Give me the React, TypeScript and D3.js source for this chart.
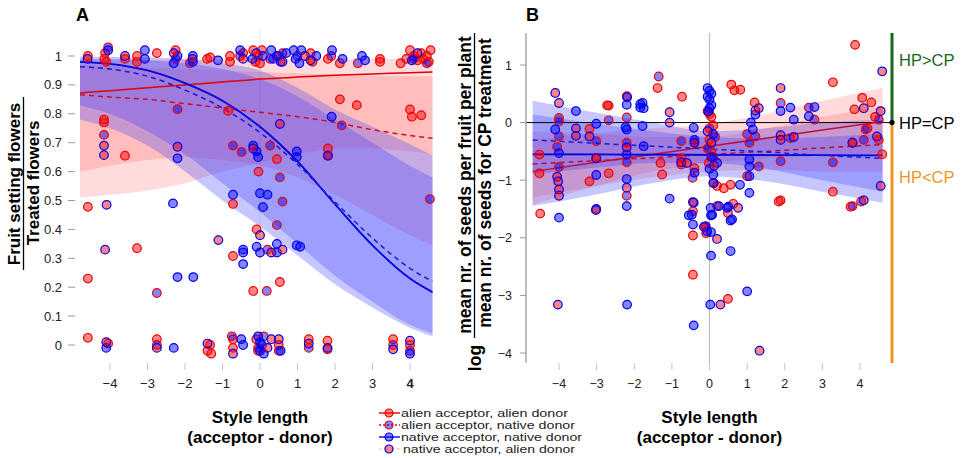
import { useEffect, useRef } from 'react';
import * as d3 from 'd3';

type Pt = [number, number];

const W = 965;
const H = 458;
const FONT = 'Liberation Sans, Arial, Helvetica, sans-serif';

// ---------- Panel A: fruit setting flowers / treated flowers ----------
const fitXA = [-4.8, -4, -3, -2, -1, 0, 1, 2, 3, 4, 4.6];

const fitA_aa_mid = [0.872, 0.88, 0.89, 0.9, 0.91, 0.92, 0.927, 0.933, 0.938, 0.942, 0.945];
const fitA_aa_lo = [0.51, 0.52, 0.535, 0.56, 0.6, 0.63, 0.66, 0.68, 0.68, 0.67, 0.66];
const fitA_aa_hi = [0.982, 0.984, 0.986, 0.988, 0.99, 0.99, 0.99, 0.99, 0.99, 0.99, 0.99];

const fitA_an_mid = [0.866, 0.858, 0.85, 0.835, 0.82, 0.805, 0.79, 0.77, 0.745, 0.725, 0.715];
const fitA_an_lo = [0.6, 0.62, 0.64, 0.65, 0.64, 0.62, 0.58, 0.52, 0.45, 0.38, 0.345];
const fitA_an_hi = [0.97, 0.965, 0.96, 0.955, 0.95, 0.945, 0.94, 0.935, 0.932, 0.93, 0.93];

const fitA_nn_mid = [0.98, 0.973, 0.95, 0.906, 0.845, 0.755, 0.635, 0.487, 0.345, 0.23, 0.183];
const fitA_nn_lo = [0.83, 0.8, 0.74, 0.66, 0.56, 0.46, 0.35, 0.24, 0.15, 0.07, 0.04];
const fitA_nn_hi = [0.998, 0.997, 0.995, 0.99, 0.975, 0.95, 0.89, 0.815, 0.755, 0.695, 0.657];

const fitA_na_mid = [0.963, 0.955, 0.93, 0.882, 0.82, 0.735, 0.625, 0.495, 0.37, 0.265, 0.22];
const fitA_na_lo = [0.78, 0.75, 0.69, 0.6, 0.5, 0.41, 0.31, 0.21, 0.13, 0.06, 0.03];
const fitA_na_hi = [0.99, 0.99, 0.985, 0.975, 0.955, 0.92, 0.86, 0.78, 0.7, 0.62, 0.58];

const ptsA_aa: Pt[] = [
  [-4.59, 1.0], [-4.15, 0.99], [-4.13, 1.01], [-4.1, 0.98], [-3.6, 0.99], [-3.28, 1.0], [-3.28, 0.98],
  [-2.75, 1.01], [-2.25, 1.02], [-1.41, 0.99], [-1.33, 0.995], [-0.8, 0.98], [-0.8, 1.0], [-0.45, 1.01],
  [-0.18, 1.02], [-0.12, 0.98], [-0.05, 1.0], [0.0, 0.975], [0.05, 1.02], [0.5, 1.0], [1.35, 1.01],
  [1.4, 0.98], [1.81, 0.99], [2.13, 0.975], [3.2, 0.99], [3.2, 0.98], [3.75, 0.975], [3.9, 0.99],
  [4.0, 1.02], [4.1, 1.0], [4.2, 0.985], [4.3, 1.01], [4.35, 0.99], [4.45, 1.0], [4.5, 0.98], [4.55, 1.02],
  [-4.16, 0.78], [-4.16, 0.77], [-3.6, 0.655], [-0.85, 0.81], [-0.04, 0.6], [0.45, 0.643], [2.13, 0.85],
  [2.58, 0.83], [4.0, 0.815], [4.05, 0.79], [4.3, 0.795], [-4.59, 0.478], [-0.72, 0.488], [-0.09, 0.4],
  [-3.28, 0.335], [-4.59, 0.23], [-0.72, 0.308], [0.53, 0.218], [-0.18, 0.187], [1.81, 0.68],
  [-4.59, 0.025], [-4.05, 0.005], [-2.75, 0.02], [-1.4, -0.02], [-1.33, 0.0], [-1.3, -0.03], [-0.72, 0.02],
  [-0.72, -0.01], [-0.1, 0.02], [-0.05, -0.02], [0.5, 0.0], [1.3, 0.02], [1.8, 0.015], [3.55, 0.02], [4.0, 0.0],
];
const ptsA_an: Pt[] = [
  [-4.05, 1.03], [-2.25, 0.99], [-1.87, 0.975], [-0.53, 1.0], [0.27, 0.99], [0.6, 1.01], [1.0, 1.0],
  [1.9, 1.0], [2.61, 0.975], [4.1, 0.99], [4.45, 0.975],
  [-4.16, 0.727], [-2.2, 0.816], [-0.72, 0.69], [-0.49, 0.668], [0.27, 0.69], [2.18, 0.76], [4.53, 0.505],
  [0.6, 0.496], [0.45, 0.415], [0.2, 0.33], [-2.75, 0.18], [0.18, 0.187], [0.53, 0.58], [1.81, 0.655],
  [-0.75, 0.03], [0.1, 0.03], [0.5, -0.02], [1.3, -0.01], [1.8, -0.015], [3.55, 0.0], [4.0, -0.02],
  [-2.75, 0.0], [-0.05, -0.01],
];
const ptsA_nn: Pt[] = [
  [-4.05, 1.02], [-3.07, 1.02], [-3.07, 0.99], [-2.3, 0.975], [-2.2, 1.0], [-1.79, 1.0], [-1.79, 0.98],
  [-1.12, 0.985], [-0.53, 1.02], [-0.2, 0.99], [0.08, 1.0], [0.3, 1.02], [0.35, 0.99], [0.45, 1.0],
  [0.55, 0.98], [0.7, 1.01], [0.9, 1.02], [0.95, 0.99], [1.05, 0.975], [1.1, 1.02], [1.5, 1.0],
  [1.92, 1.02], [2.2, 0.99], [2.72, 1.0], [2.8, 0.985], [4.05, 0.985],
  [-2.2, 0.646], [-0.18, 0.69], [-0.09, 0.67], [-0.05, 0.65], [0.98, 0.67], [0.98, 0.65], [1.91, 0.79],
  [-0.72, 0.52], [0.0, 0.525], [0.2, 0.52], [-2.32, 0.49], [0.08, 0.477], [-0.45, 0.33], [-0.45, 0.32],
  [-0.45, 0.28], [-0.09, 0.34], [0.0, 0.32], [0.45, 0.35], [0.45, 0.32], [0.98, 0.345], [1.07, 0.34],
  [-2.2, 0.235], [-1.78, 0.235],
  [-4.1, -0.01], [-2.3, -0.01], [-0.5, 0.02], [-0.45, 0.0], [-0.05, 0.03], [0.0, 0.01], [0.0, -0.02],
  [0.05, 0.0], [0.1, -0.03], [0.55, -0.02], [4.0, -0.03],
];
const ptsA_na: Pt[] = [
  [-4.6, 0.99], [-3.6, 1.0], [-2.3, 1.01], [-1.8, 0.99], [-0.45, 0.99], [-0.1, 1.01], [0.6, 0.98],
  [1.2, 1.0], [1.35, 0.985], [4.2, 1.01],
  [-4.16, 0.69], [-4.16, 0.657], [-2.2, 0.686], [0.53, 0.765], [-1.11, 0.363], [-4.13, 0.33],
  [-4.09, 0.485], [0.0, 0.38], [0.3, 0.32], [0.6, 0.33], [1.81, 0.655], [-0.18, 0.68],
  [-4.1, 0.01], [-2.75, -0.01], [-1.4, 0.005], [-0.72, -0.03], [0.2, -0.01], [0.3, 0.02], [0.5, 0.02],
  [1.3, 0.005], [1.8, -0.01], [3.55, -0.015], [4.0, 0.015],
];

const xTicksA = [-4, -3, -2, -1, 0, 1, 2, 3, 4];
const yTicksA = [0, 0.1, 0.2, 0.3, 0.4, 0.5, 0.6, 0.7, 0.8, 0.9, 1];

// ---------- Panel B: log ratio of seeds per fruit ----------
const fitXB = [-4.7, -3, -1.5, 0, 1.5, 3, 4.6];

const fitB_aa_mid = [-0.85, -0.69, -0.55, -0.41, -0.27, -0.13, 0.02];
const fitB_aa_lo = [-1.42, -1.1, -0.85, -0.7, -0.62, -0.57, -0.55];
const fitB_aa_hi = [-0.3, -0.18, -0.1, -0.02, 0.15, 0.38, 0.6];

const fitB_an_mid = [-0.72, -0.66, -0.61, -0.55, -0.5, -0.44, -0.38];
const fitB_an_lo = [-1.3, -1.1, -0.95, -0.85, -0.82, -0.85, -0.85];
const fitB_an_hi = [-0.15, -0.2, -0.25, -0.25, -0.1, 0.1, 0.28];

const fitB_nn_mid = [-0.55, -0.553, -0.556, -0.56, -0.563, -0.566, -0.57];
const fitB_nn_lo = [-1.45, -1.25, -1.05, -0.93, -1.02, -1.2, -1.39];
const fitB_nn_hi = [0.38, 0.17, 0.0, -0.15, -0.1, 0.0, 0.05];

const fitB_na_mid = [-0.3, -0.36, -0.41, -0.46, -0.51, -0.57, -0.62];
const fitB_na_lo = [-0.9, -0.78, -0.7, -0.7, -0.8, -1.0, -1.2];
const fitB_na_hi = [0.14, -0.02, -0.15, -0.25, -0.28, -0.25, -0.2];

const ptsB_aa: Pt[] = [
  [-4.52, -0.555], [-4.52, -0.88], [-4.5, -1.58], [-3.19, -0.11], [-3.19, -1.02], [-2.68, 0.295],
  [-2.68, -0.88], [-2.2, 0.46], [-2.72, 0.3], [-1.26, -0.9], [-1.38, 0.6], [-0.73, 0.45], [-0.75, -0.62],
  [-0.4, -0.79], [0.58, 0.66], [0.66, 0.56], [0.82, 0.57], [1.89, -1.35], [3.28, 0.7], [3.28, -1.2],
  [3.87, 1.35], [4.06, 0.43], [3.85, 0.23], [4.3, 0.35], [4.59, -0.55], [0.49, -1.57], [-0.44, -1.54],
  [-0.44, -1.96], [-0.44, -2.64], [-0.09, -1.92], [0.2, -1.45], [0.63, -1.41], [0.49, -3.06], [3.75, -1.46],
  [1.84, -1.37], [0.0, 0.15], [0.05, 0.1], [-0.05, 0.2], [0.1, -0.05], [0.0, -0.3], [0.05, -0.5],
  [-0.02, -0.7], [0.1, -1.05], [0.2, -1.1], [0.38, -1.14], [1.2, 0.35], [4.4, 0.1], [4.5, -0.3],
  [3.8, -0.35], [4.2, -0.1], [-0.1, -1.8], [-0.75, -0.73], [0.56, -1.08], [1.0, -0.93], [-3.01, -0.62],
  [-1.3, -0.7],
];
const ptsB_an: Pt[] = [
  [-4.0, 0.08], [-4.0, 0.02], [-4.0, -0.24], [-4.05, -0.42], [-4.0, -0.77], [-3.01, -0.32], [-2.68, 0.04],
  [-2.2, 0.09], [-2.2, -0.35], [-2.2, -0.69], [-1.35, 0.8], [-0.75, -0.32], [-0.4, -0.35], [-0.45, -0.96],
  [1.31, -0.76], [1.89, -0.67], [1.89, 0.34], [2.15, -0.27], [2.64, 0.26], [2.79, 0.05], [3.28, -0.69],
  [4.1, -0.3], [4.15, -0.12], [4.5, 0.05], [0.0, -0.1], [-0.05, -0.45], [0.1, -0.6], [0.15, -0.25],
  [1.22, -0.24], [1.06, -0.35], [4.03, -1.37], [3.8, -1.45], [1.0, -0.2], [-2.2, -1.27],
];
const ptsB_nn: Pt[] = [
  [-4.0, -1.65], [-3.55, 0.2], [-3.01, -0.02], [-3.01, -0.91], [-3.01, -1.5], [-2.23, -0.08], [-2.2, 0.31],
  [-2.2, -0.12], [-2.2, -0.55], [-2.2, -0.98], [-2.2, -1.45], [-1.78, 0.34], [-1.75, 0.25], [-1.78, -0.06],
  [-1.75, -0.41], [-1.06, -1.32], [-0.42, -0.09], [-0.4, -0.3], [-0.4, -0.87], [-0.42, -1.39], [-0.47, -1.6],
  [-0.55, -1.61], [-0.44, -1.77], [0.04, -1.9], [0.03, -1.48], [0.04, -1.61], [0.47, -1.48], [0.56, -1.7],
  [0.56, -2.23], [0.04, -2.31], [1.0, -2.93], [0.02, -3.16], [-2.19, -3.16], [-0.42, -3.52], [-0.05, 0.6],
  [0.0, 0.55], [0.05, 0.5], [-0.05, 0.45], [0.0, 0.4], [0.05, 0.3], [0.0, 0.25], [-0.03, 0.19], [0.1, -0.2],
  [0.05, -0.6], [0.0, -0.8], [0.1, -0.9], [0.2, -0.7], [1.22, 0.14], [1.1, 0.0], [1.15, -0.12], [1.06, -0.64],
  [1.06, -0.76], [1.06, -0.93], [1.06, -1.22], [1.89, 0.2], [2.15, 0.26], [2.24, 0.05], [2.64, 0.11],
  [2.79, 0.27], [0.11, -1.05], [0.25, -1.45], [0.07, -1.6], [-0.11, -1.8], [-0.06, -1.89], [0.6, -1.68],
  [0.81, -1.08], [0.5, -1.46], [-2.19, 0.44], [-1.84, 0.32], [-1.84, 0.26], [-4.1, -0.12], [-4.0, -0.53],
];
const ptsB_na: Pt[] = [
  [-4.1, 0.515], [-4.0, 0.34], [-3.55, -0.1], [-3.55, -0.23], [-3.01, -0.62], [-3.02, -1.52], [-2.2, -0.43],
  [-2.2, -1.13], [-1.06, 0.18], [-1.06, 0.0], [-0.75, -0.69], [-0.4, -0.35], [-0.44, -1.38], [-0.15, -1.81],
  [0.2, -2.02], [0.76, -1.48], [0.29, -3.16], [-4.03, -3.16], [1.33, -3.96], [1.89, 0.6], [1.89, -0.22],
  [1.89, -0.3], [2.24, -0.25], [3.8, -0.35], [4.59, 0.89], [4.55, -1.1], [4.1, -1.35], [4.1, 0.25],
  [4.45, -0.24], [4.55, 0.2], [-0.05, -0.15], [0.05, -0.35], [0.12, -0.75], [-0.6, -0.7], [-4.05, -0.94],
  [-4.0, -1.16], [-4.0, -1.27], [-4.02, -1.02], [-3.19, -0.24], [1.22, 0.21], [1.31, 0.25],
];

const xTicksB = [-4, -3, -2, -1, 0, 1, 2, 3, 4];
const yTicksB = [-4, -3, -2, -1, 0, 1];

// ---------- groups ----------
type Key = 'aa' | 'an' | 'nn' | 'na';
const groupKeys: Key[] = ['aa', 'an', 'nn', 'na'];
const groupLabels: Record<Key, string> = {
  aa: 'alien acceptor, alien donor',
  an: 'alien acceptor, native donor',
  nn: 'native acceptor, native donor',
  na: 'native acceptor, alien donor',
};

const RED = '#ee0000';
const BLUE = '#0000ee';
const style: Record<Key, { stroke: string; fill: string; line: string; dash: string | null; band: string; bandOp: number }> = {
  aa: { stroke: RED, fill: '#ff0000', line: '#e00000', dash: null, band: '#ff2a2a', bandOp: 0.17 },
  an: { stroke: RED, fill: '#0000ff', line: '#c8102e', dash: '5,4', band: '#ff2a2a', bandOp: 0.17 },
  nn: { stroke: BLUE, fill: '#0000ff', line: '#0000dd', dash: null, band: '#3030ff', bandOp: 0.27 },
  na: { stroke: BLUE, fill: '#ff0000', line: '#1a1ad8', dash: '5,4', band: '#3030ff', bandOp: 0.27 },
};

type Fit = { mid: number[]; lo: number[]; hi: number[] };
type Panel = {
  x: d3.ScaleLinear<number, number>;
  y: d3.ScaleLinear<number, number>;
  fitX: number[];
  fits: Record<Key, Fit>;
  pts: Record<Key, Pt[]>;
  curve: d3.CurveFactory;
  lineColor: Partial<Record<Key, string>>;
};

const panelA: Panel = {
  x: d3.scaleLinear().domain([-4, 4]).range([110, 410]),
  y: d3.scaleLinear().domain([0, 1]).range([345, 56]),
  fitX: fitXA,
  fits: {
    aa: { mid: fitA_aa_mid, lo: fitA_aa_lo, hi: fitA_aa_hi },
    an: { mid: fitA_an_mid, lo: fitA_an_lo, hi: fitA_an_hi },
    nn: { mid: fitA_nn_mid, lo: fitA_nn_lo, hi: fitA_nn_hi },
    na: { mid: fitA_na_mid, lo: fitA_na_lo, hi: fitA_na_hi },
  },
  pts: { aa: ptsA_aa, an: ptsA_an, nn: ptsA_nn, na: ptsA_na },
  curve: d3.curveMonotoneX,
  lineColor: {},
};

// on panel B the red fits sit over the blue bands and read darker
const panelB: Panel = {
  x: d3.scaleLinear().domain([-4, 4]).range([559, 860]),
  y: d3.scaleLinear().domain([-4, 1]).range([353, 65]),
  fitX: fitXB,
  fits: {
    aa: { mid: fitB_aa_mid, lo: fitB_aa_lo, hi: fitB_aa_hi },
    an: { mid: fitB_an_mid, lo: fitB_an_lo, hi: fitB_an_hi },
    nn: { mid: fitB_nn_mid, lo: fitB_nn_lo, hi: fitB_nn_hi },
    na: { mid: fitB_na_mid, lo: fitB_na_lo, hi: fitB_na_hi },
  },
  pts: { aa: ptsB_aa, an: ptsB_an, nn: ptsB_nn, na: ptsB_na },
  curve: d3.curveMonotoneX,
  lineColor: { aa: '#b8103c', an: '#b01040' },
};

const minus = (v: number) => String(v).replace('-', '\u2212');

type G = d3.Selection<SVGGElement, unknown, null, undefined>;

function drawBands(g: G, p: Panel) {
  groupKeys.forEach(k => {
    const f = p.fits[k];
    const area = d3.area<number>()
      .x((_, i) => p.x(p.fitX[i]))
      .y0((_, i) => p.y(f.lo[i]))
      .y1((_, i) => p.y(f.hi[i]))
      .curve(p.curve);
    g.append('path')
      .attr('d', area(f.lo))
      .attr('fill', style[k].band)
      .attr('fill-opacity', style[k].bandOp);
  });
}

function drawFits(g: G, p: Panel) {
  groupKeys.forEach(k => {
    const f = p.fits[k];
    const line = d3.line<number>()
      .x((_, i) => p.x(p.fitX[i]))
      .y(d => p.y(d))
      .curve(p.curve);
    g.append('path')
      .attr('d', line(f.mid))
      .attr('fill', 'none')
      .attr('stroke', p.lineColor[k] ?? style[k].line)
      .attr('stroke-width', k === 'nn' ? 1.8 : 1.5)
      .attr('stroke-dasharray', style[k].dash);
  });
}

function drawPoints(g: G, p: Panel) {
  groupKeys.forEach(k => {
    g.append('g')
      .selectAll('circle')
      .data(p.pts[k])
      .enter()
      .append('circle')
      .attr('cx', d => p.x(d[0]))
      .attr('cy', d => p.y(d[1]))
      .attr('r', 4.3)
      .attr('fill', style[k].fill)
      .attr('fill-opacity', 0.48)
      .attr('stroke', style[k].stroke)
      .attr('stroke-width', 1.2);
  });
}

export default function App() {
  const svgRef = useRef<SVGSVGElement>(null);

  useEffect(() => {
    const svg = d3.select(svgRef.current);
    svg.selectAll('*').remove();
    svg.style('font-family', FONT);

    // ---------- Panel A ----------
    const a = svg.append('g');
    const { x: xA, y: yA } = panelA;

    a.append('line')
      .attr('x1', xA(0)).attr('x2', xA(0))
      .attr('y1', 30).attr('y2', 360)
      .attr('stroke', '#e4e4e4').attr('stroke-width', 1);

    drawBands(a, panelA);
    drawFits(a, panelA);
    drawPoints(a, panelA);

    // y axis (ticks only)
    const yAx = a.append('g');
    yTicksA.forEach(t => {
      yAx.append('line')
        .attr('x1', 68).attr('x2', 75)
        .attr('y1', yA(t)).attr('y2', yA(t))
        .attr('stroke', '#999').attr('stroke-width', 1);
      yAx.append('text')
        .attr('x', 62).attr('y', yA(t) + 4.5)
        .attr('text-anchor', 'end')
        .attr('font-size', 13).attr('fill', '#222')
        .text(String(t));
    });

    // x axis
    const xAx = a.append('g');
    xTicksA.forEach(t => {
      xAx.append('line')
        .attr('x1', xA(t)).attr('x2', xA(t))
        .attr('y1', 363).attr('y2', 370)
        .attr('stroke', '#c4c4c4').attr('stroke-width', 1);
      xAx.append('text')
        .attr('x', xA(t)).attr('y', 388)
        .attr('text-anchor', 'middle')
        .attr('font-size', 13).attr('fill', '#222')
        .attr('font-weight', t === 4 ? 'bold' : 'normal')
        .text(minus(t));
    });

    a.append('text').attr('x', xA(0)).attr('y', 423)
      .attr('text-anchor', 'middle').attr('font-size', 17).attr('font-weight', 'bold')
      .text('Style length');
    a.append('text').attr('x', xA(0)).attr('y', 443)
      .attr('text-anchor', 'middle').attr('font-size', 17).attr('font-weight', 'bold')
      .text('(acceptor - donor)');

    // y label as a fraction
    a.append('text').attr('transform', 'translate(20,184) rotate(-90)')
      .attr('text-anchor', 'middle').attr('font-size', 17).attr('font-weight', 'bold')
      .text('Fruit setting flowers');
    a.append('line').attr('x1', 23.5).attr('x2', 23.5).attr('y1', 97).attr('y2', 270)
      .attr('stroke', '#000').attr('stroke-width', 1.3);
    a.append('text').attr('transform', 'translate(39,183) rotate(-90)')
      .attr('text-anchor', 'middle').attr('font-size', 17).attr('font-weight', 'bold')
      .text('Treated flowers');

    a.append('text').attr('x', 76).attr('y', 21)
      .attr('font-size', 18).attr('font-weight', 'bold').text('A');

    // ---------- Panel B ----------
    const b = svg.append('g');
    const { x: xB, y: yB } = panelB;
    const top = 33;
    const bottom = 363;
    const left = 526;
    const right = 892;

    drawBands(b, panelB);

    b.append('line')
      .attr('x1', xB(0)).attr('x2', xB(0)).attr('y1', top).attr('y2', bottom)
      .attr('stroke', '#bdbdbd').attr('stroke-width', 1.2);
    b.append('line')
      .attr('x1', left).attr('x2', right).attr('y1', yB(0)).attr('y2', yB(0))
      .attr('stroke', '#000').attr('stroke-width', 1);

    drawFits(b, panelB);
    drawPoints(b, panelB);

    // left axis
    b.append('line')
      .attr('x1', left).attr('x2', left).attr('y1', top).attr('y2', bottom)
      .attr('stroke', '#a8a8a8').attr('stroke-width', 1.5);
    yTicksB.forEach(t => {
      b.append('line')
        .attr('x1', left - 6).attr('x2', left)
        .attr('y1', yB(t)).attr('y2', yB(t))
        .attr('stroke', '#999').attr('stroke-width', 1);
      b.append('text')
        .attr('x', 512).attr('y', yB(t) + 4.5)
        .attr('text-anchor', 'end')
        .attr('font-size', 12.5).attr('fill', '#222')
        .text(minus(t));
    });

    xTicksB.forEach(t => {
      b.append('line')
        .attr('x1', xB(t)).attr('x2', xB(t))
        .attr('y1', 363).attr('y2', 370)
        .attr('stroke', '#c4c4c4').attr('stroke-width', 1);
      b.append('text')
        .attr('x', xB(t)).attr('y', 388)
        .attr('text-anchor', 'middle')
        .attr('font-size', 12.5).attr('fill', '#222')
        .text(minus(t));
    });

    b.append('text').attr('x', xB(0)).attr('y', 423)
      .attr('text-anchor', 'middle').attr('font-size', 17).attr('font-weight', 'bold')
      .text('Style length');
    b.append('text').attr('x', xB(0)).attr('y', 443)
      .attr('text-anchor', 'middle').attr('font-size', 17).attr('font-weight', 'bold')
      .text('(acceptor - donor)');

    // log( seeds / seeds CP ) label
    b.append('text').attr('transform', 'translate(471,185) rotate(-90)')
      .attr('text-anchor', 'middle').attr('font-size', 17.5).attr('font-weight', 'bold')
      .text('mean nr. of seeds per fruit per plant');
    b.append('line').attr('x1', 474.5).attr('x2', 474.5).attr('y1', 33).attr('y2', 338)
      .attr('stroke', '#000').attr('stroke-width', 1.3);
    b.append('text').attr('transform', 'translate(491,183) rotate(-90)')
      .attr('text-anchor', 'middle').attr('font-size', 17.5).attr('font-weight', 'bold')
      .text('mean nr. of seeds for CP treatment');
    b.append('text').attr('transform', 'translate(481,358) rotate(-90)')
      .attr('text-anchor', 'middle').attr('font-size', 17.5).attr('font-weight', 'bold')
      .text('log');

    b.append('text').attr('x', 526).attr('y', 21)
      .attr('font-size', 18).attr('font-weight', 'bold').text('B');

    // HP vs CP guide on the right
    b.append('line').attr('x1', right).attr('x2', right).attr('y1', top).attr('y2', yB(0))
      .attr('stroke', '#17691a').attr('stroke-width', 3);
    b.append('line').attr('x1', right).attr('x2', right).attr('y1', yB(0)).attr('y2', bottom)
      .attr('stroke', '#f0961c').attr('stroke-width', 3);
    b.append('circle').attr('cx', right).attr('cy', yB(0)).attr('r', 2.6).attr('fill', '#000');
    b.append('text').attr('x', 899).attr('y', 66).attr('font-size', 16.5).attr('fill', '#17691a').text('HP>CP');
    b.append('text').attr('x', 899).attr('y', yB(0) + 6).attr('font-size', 16.5).attr('fill', '#000').text('HP=CP');
    b.append('text').attr('x', 899).attr('y', 183).attr('font-size', 16.5).attr('fill', '#f0961c').text('HP<CP');

    // ---------- legend ----------
    const lg = svg.append('g').attr('transform', 'translate(379,413)');
    const textLen: Record<Key, number> = { aa: 167, an: 174, nn: 181, na: 172 };
    groupKeys.forEach((k, i) => {
      const row = lg.append('g').attr('transform', `translate(0,${i * 12})`);
      row.append('line')
        .attr('x1', 0).attr('x2', 21).attr('y1', 0).attr('y2', 0)
        .attr('stroke', k === 'na' ? '#dcdcdc' : style[k].line)
        .attr('stroke-width', 1.4)
        .attr('stroke-dasharray', k === 'an' ? '2,2' : k === 'na' ? '3,3' : null);
      row.append('circle')
        .attr('cx', 10).attr('cy', 0).attr('r', 4)
        .attr('fill', style[k].fill).attr('fill-opacity', 0.48)
        .attr('stroke', style[k].stroke).attr('stroke-width', 1.2);
      row.append('text')
        .attr('x', k === 'na' ? 24 : 22).attr('y', 4)
        .attr('font-size', 10.8).attr('fill', '#222')
        .attr('textLength', textLen[k]).attr('lengthAdjust', 'spacingAndGlyphs')
        .text(groupLabels[k]);
    });
  }, []);

  return (
    <div style={{ position: 'absolute', left: 0, top: 0 }}>
      <svg ref={svgRef} width={W} height={H} style={{ display: 'block', background: '#fff' }} />
    </div>
  );
}
